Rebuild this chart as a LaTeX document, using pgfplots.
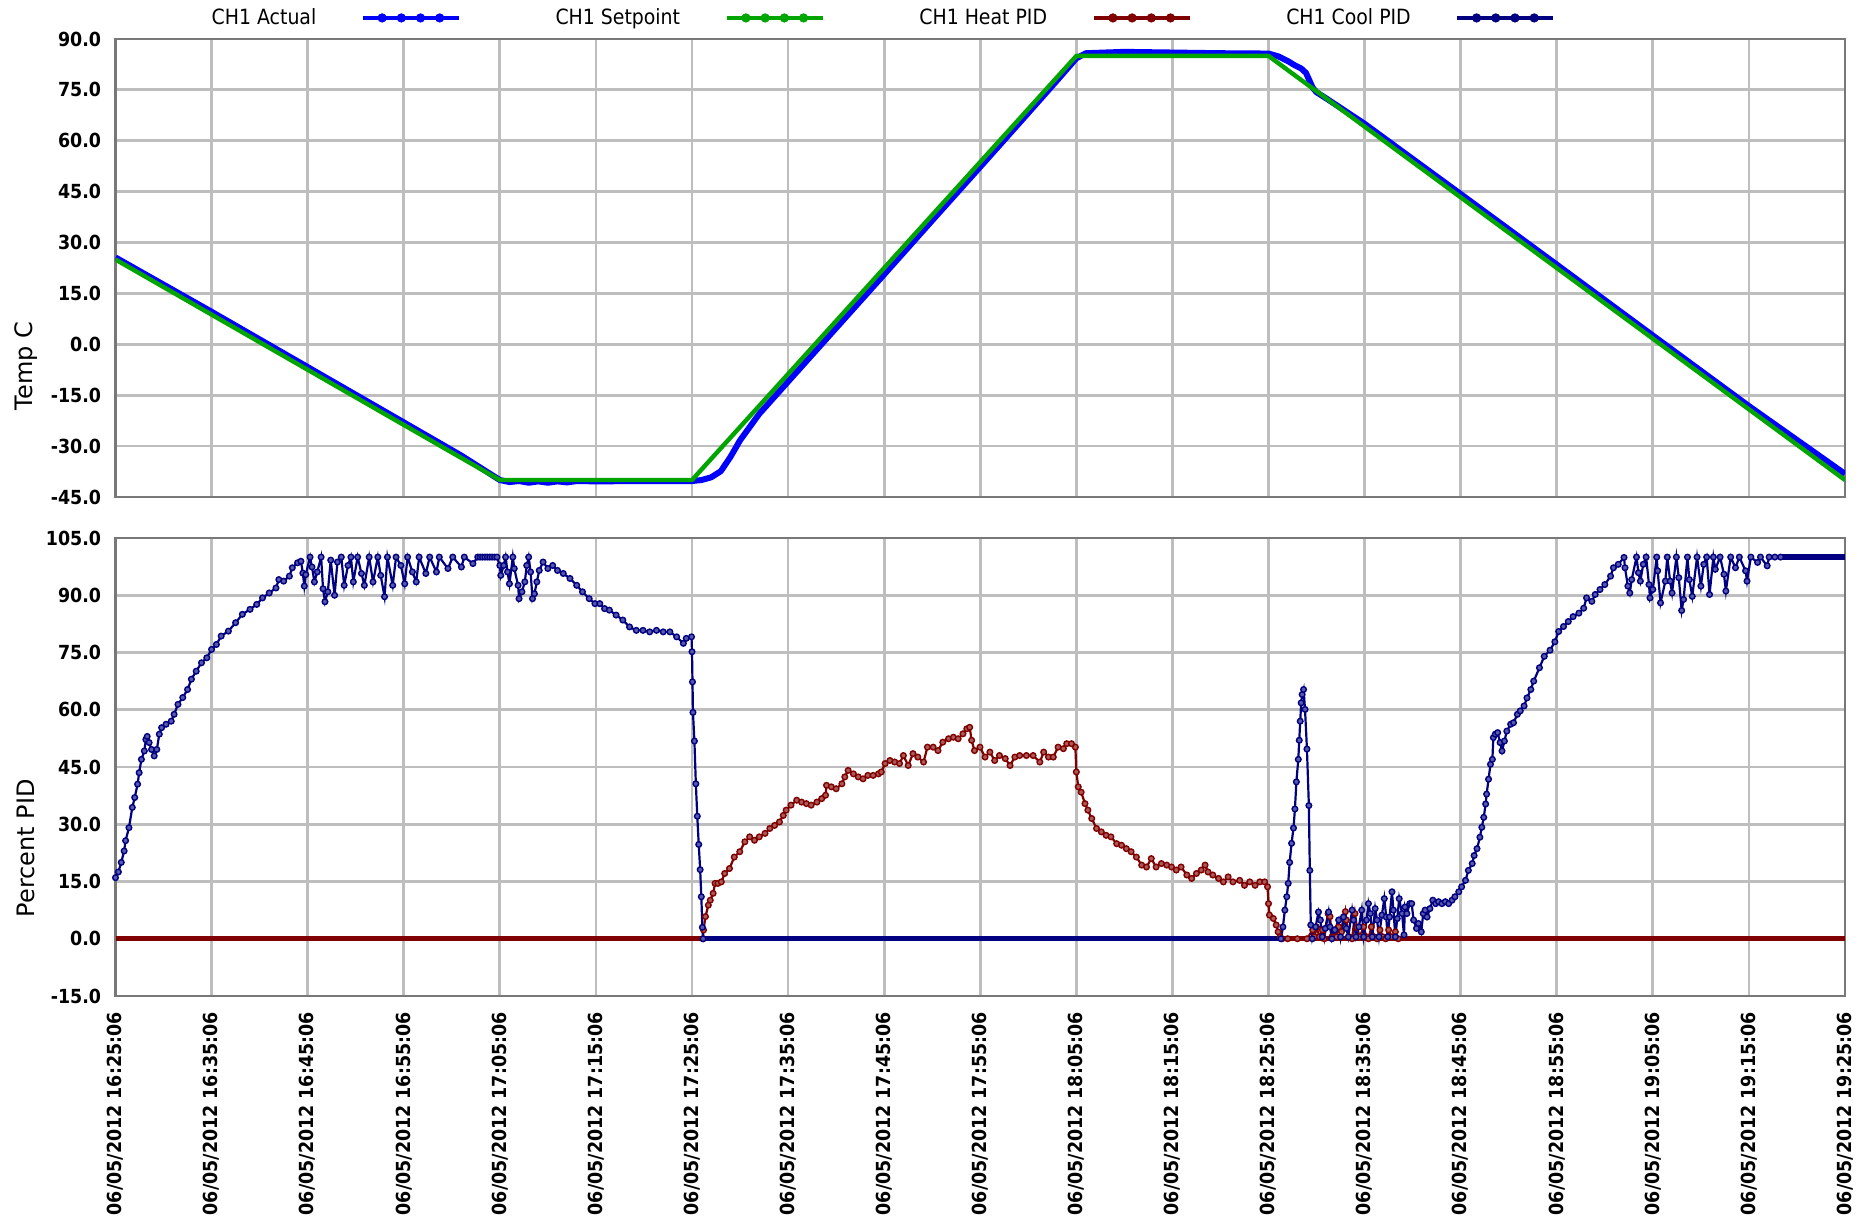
\documentclass[border=0pt]{standalone}
\usepackage{pgfplots}
\pgfplotsset{compat=1.18}
\usepackage{fontspec}
\setmainfont{DejaVu Sans}
\newfontfamily\condfont{DejaVu Sans Condensed}
\definecolor{actual}{RGB}{0,0,255}
\definecolor{setp}{RGB}{0,165,0}
\definecolor{heat}{RGB}{128,0,0}
\definecolor{cool}{RGB}{0,0,128}
\definecolor{gridc}{RGB}{190,190,190}
\definecolor{framec}{RGB}{120,120,120}
\pgfplotsset{
 base/.style={
   scale only axis, width=864.75pt, height=229pt,
   xmin=0, xmax=180, xtick={0,10,...,180},
   grid=major, major grid style={gridc, line width=1.4pt},
   axis line style={framec, line width=1.3pt},
   major tick length=0pt,
   tick label style={font=\condfont\bfseries\fontsize{9.7}{10}\selectfont},
   yticklabel style={anchor=east, inner sep=7pt},
   xticklabel style={rotate=90, anchor=east, inner sep=8pt},
   ylabel style={font=\fontsize{12}{14}\selectfont, anchor=center},
 },
 pid/.style={line width=1.1pt, mark=*, mark size=1.4pt, mark options={solid, fill=#1!65!white, draw=#1, line width=0.7pt}, color=#1},
}
\begin{document}
\begin{tikzpicture}
\useasboundingbox (0,0) rectangle (933pt,609pt);
% ---------------- top axis ----------------
\begin{axis}[base, at={(57.75pt,360.5pt)}, anchor=south west,
  ymin=-45, ymax=90, ytick={-45,-30,...,90},
  yticklabels={-45.0,-30.0,-15.0,0.0,15.0,30.0,45.0,60.0,75.0,90.0},
  xticklabels={},
  ylabel={Temp C},
  ylabel style={at={(axis description cs:-0.0518,0.286)}},
  legend columns=4, legend plot pos=right,
  legend style={at={(axis description cs:0.0531,1.0459)}, anchor=west, draw=none, fill=none, inner sep=0pt,
    font=\condfont\fontsize{10.5}{12}\selectfont,
    /tikz/every odd column/.append style={column sep=20.5pt},
    /tikz/every even column/.append style={column sep=45.5pt}},
  legend image code/.code={\draw[#1, line width=1.6pt] (0pt,0pt) -- (48pt,0pt);
     \foreach \xx in {9.6pt,19.2pt,28.8pt,38.4pt}{\fill[#1] (\xx,0pt) circle (2.1pt);}},
]
\addplot[actual, line width=3pt, line join=round, forget plot] coordinates {
(0,25.6) (3,20.8) (10,9.6) (20,-6.7) (30,-23) (36,-32.8) (39,-38.2) (40,-40) (41,-40.6) (42,-40.3) (43,-40.8) (44,-40.4) (45,-40.8) (46,-40.4) (47,-40.7) (48,-40.3) (50,-40.4) (55,-40.3) (60,-40.3) (61,-40) (62,-39.2) (63,-37.4) (64,-33.2) (65,-28.3) (67,-20.5) (70,-11) (75,4.8) (80,20.6) (85,36.5) (90,52.3) (95,68.2) (98,77.8) (100,84.3) (101,85.8) (105,86.2) (110,86) (115,85.8) (120,85.7) (121,84.9) (122,83.5) (122.7,82.3) (123.4,81.3) (123.9,80) (124.3,77.5) (124.6,75.6) (125,74.3) (126,72.5) (130,65) (140,44.3) (150,23.5) (160,2.6) (170,-18.2) (180,-38.2)
};
\addplot[setp, line width=2.2pt, line join=round, forget plot] coordinates {
(0,25) (40,-40) (60,-40) (100,85) (120,85) (180,-40)
};
\addlegendimage{actual}
\addlegendentry{CH1 Actual}
\addlegendimage{setp}
\addlegendentry{CH1 Setpoint}
\addlegendimage{heat}
\addlegendentry{CH1 Heat PID}
\addlegendimage{cool}
\addlegendentry{CH1 Cool PID}
\end{axis}
% ---------------- bottom axis ----------------
\begin{axis}[base, at={(57.75pt,111pt)}, anchor=south west,
  ymin=-15, ymax=105, ytick={-15,0,...,105},
  yticklabels={-15.0,0.0,15.0,30.0,45.0,60.0,75.0,90.0,105.0},
  xticklabels={06/05/2012 16:25:06,06/05/2012 16:35:06,06/05/2012 16:45:06,06/05/2012 16:55:06,06/05/2012 17:05:06,06/05/2012 17:15:06,06/05/2012 17:25:06,06/05/2012 17:35:06,06/05/2012 17:45:06,06/05/2012 17:55:06,06/05/2012 18:05:06,06/05/2012 18:15:06,06/05/2012 18:25:06,06/05/2012 18:35:06,06/05/2012 18:45:06,06/05/2012 18:55:06,06/05/2012 19:05:06,06/05/2012 19:15:06,06/05/2012 19:25:06},
  ylabel={Percent PID},
  ylabel style={at={(axis description cs:-0.0518,0.323)}},
]
% heat zero segments
\addplot[heat, line width=2.6pt] coordinates {(0,0) (61.2,0)};
\addplot[heat, line width=2.6pt] coordinates {(121.2,0) (180,0)};
% heat PID
\addplot[pid=heat] coordinates {
(61.15,0) (61.2,2.3) (61.4,5.8) (61.7,8.8) (61.9,10.1) (62.2,11.9) (62.4,14.5) (62.7,14.5) (63.05,14.9) (63.4,17.1) (63.9,18.4) (64.4,21.4) (64.97,22.8) (65.5,25.4) (66,26.7) (66.5,25.8) (67,26.7) (67.6,27.6) (68.1,28.9) (68.6,29.7) (69.1,30.6) (69.5,32.3) (69.8,33.7) (70.3,35) (70.9,36.3) (71.4,35.8) (71.9,35.4) (72.4,35) (73,35.8) (73.5,36.7) (73.9,37.6) (74,40.2) (74.5,39.8) (75,39.3) (75.6,40.6) (75.9,42.4) (76.25,44.1) (76.8,43.2) (77.3,42.4) (77.8,41.9) (78.3,42.8) (78.85,42.8) (79.4,43.2) (79.7,43.7) (80.1,45.9) (80.6,46.7) (81.1,46.3) (81.6,45.9) (82,48) (82.5,45.4) (83,48.5) (83.5,47.6) (84.1,46.3) (84.5,50.2) (85.1,50.2) (85.6,49.3) (86.1,51.5) (86.7,52.4) (87.2,52.8) (87.7,52.4) (88.2,53.7) (88.6,55) (88.9,55.4) (89.1,52) (89.4,49.3) (89.97,50.2) (90.5,47.6) (91,48.9) (91.5,46.7) (92,48) (92.6,47.2) (93.1,45.4) (93.6,47.6) (94.1,48) (94.8,48) (95.5,48) (96.2,46.3) (96.6,48.9) (97.1,47.6) (97.6,47.6) (98.1,50.2) (98.65,49.8) (99,51.1) (99.5,51.1) (99.9,50.2) (100,43.7) (100.2,39.8) (100.5,38.4) (100.9,35.4) (101.2,33.7) (101.6,31.5) (102.1,28.9) (102.6,28) (103.1,27.1) (103.6,26.7) (104.2,24.9) (104.7,24.5) (105.2,23.6) (105.7,22.8) (106.25,21.4) (106.8,19.3) (107.3,18.8) (107.8,21) (108.3,18.8) (108.85,19.7) (109.4,19.3) (109.9,18.8) (110.4,18) (110.9,18.8) (111.5,16.7) (112,15.8) (112.5,17.1) (113,18) (113.4,19.3) (113.7,17.5) (114.2,16.7) (114.8,15.8) (115.3,14.9) (115.8,16.2) (116.3,14.9) (117,15.3) (117.5,14) (118.05,14.9) (118.6,14) (119.1,14.9) (119.6,14.9) (119.9,13.6) (120,9.2) (120.1,6.2) (120.5,5.3) (120.8,3.6) (121,1.8) (121.2,0.5) (121.4,0) (122,0) (123,0) (124,0) (124.6,2.3) (124.8,0.5) (125,3.1) (125.3,0.5) (125.6,2.3) (125.8,0) (126.2,6.6) (126.4,5.8) (126.6,0.5) (126.9,2.3) (127.1,0.5) (127.3,3.1) (127.6,1.8) (128,7.1) (128.1,4.9) (128.4,0.5) (128.7,0) (129,6.6) (129.2,3) (129.5,0.5) (129.9,3.1) (130.2,0.5) (130.4,0) (130.7,3.1) (131,0.5) (131.3,0) (131.6,2.3) (131.9,0.5) (132.2,0) (132.5,2.3) (132.8,0.5) (133.2,1.8) (133.5,0)
};
% cool zero and flat segments
\addplot[cool, line width=2.6pt] coordinates {(61.15,0) (121.3,0)};
\addplot[cool, line width=2.6pt] coordinates {(173.3,100) (180,100)};
% cool PID part 1
\addplot[pid=cool] coordinates {
(0,16) (0.3,17.5) (0.6,20) (0.9,23) (1.05,25.7) (1.4,29.1) (1.75,34.4) (2,37) (2.3,40.5) (2.46,43.5) (2.7,47) (3,49.2) (3.16,52.2) (3.3,53) (3.5,51.4) (3.75,49.6) (4.03,47.9) (4.3,49.6) (4.56,53.6) (4.8,55.3) (5.26,56.2) (5.8,57) (6.1,58.8) (6.5,61.4) (7,63.2) (7.5,65.3) (7.9,68) (8.4,70.1) (8.95,72.3) (9.5,73.6) (10,75.8) (10.5,77.1) (11,79.3) (11.75,80.6) (12.5,82.8) (13.2,85) (14,86.3) (14.7,87.6) (15.3,89.3) (16,90.6) (16.7,91.9) (17,94.1) (17.5,93.7) (18.1,95) (18.4,97.2) (18.95,98.5) (19.3,98.9) (19.5,95.8) (19.65,92.4) (19.8,95.4) (20.25,100) (20.45,97.4) (20.7,93.5) (21,96.1) (21.4,100) (21.6,91.7) (21.8,88.3) (22.1,90.9) (22.4,99.2) (22.8,90) (23.1,98.7) (23.5,100) (23.8,92.6) (24.2,97.8) (24.5,100) (24.75,93.5) (25.2,100) (25.6,95.7) (25.9,92.6) (26.4,100) (26.8,93.5) (27.3,100) (27.6,95.2) (28,89.6) (28.3,100) (28.85,92.6) (29.2,100) (29.7,97.8) (30.1,93) (30.4,100) (30.9,96.1) (31.3,93.5) (31.6,100) (32.3,95.7) (32.7,100) (33.4,96.1) (33.7,100) (34.6,97) (35.1,100) (36,97.4) (36.3,100) (37.2,98.3) (37.7,100) (37.95,100) (38.2,100) (38.45,100) (38.7,100) (38.95,100) (39.2,100) (39.45,100) (39.7,100) (40,97.8) (40.1,95.2) (40.4,97.8) (40.6,100) (40.8,96.1) (41,93) (41.35,100) (41.5,97) (41.9,92.6) (42,89.1) (42.3,90.9) (42.6,93.5) (42.8,97.8) (43,100) (43.2,96.1) (43.4,89.1) (43.6,90.4) (43.85,93.5) (44.1,96.5) (44.5,98.7) (45,97) (45.5,97.8) (46,96.5) (46.6,95.7) (47.3,94.4) (48,92.6) (48.6,90.9) (49.3,89.1) (49.9,87.8) (50.4,87.8) (50.9,86.5) (51.4,86.1) (52.1,84.8) (52.8,83.5) (53.5,81.7) (54.2,80.8) (54.9,80.8) (55.6,80.4) (56.3,80.8) (57,80.4) (57.7,80.4) (58.4,79.1) (59.1,77.4) (59.4,78.7) (59.95,79.1) (60,75.2) (60.05,67.3) (60.1,59.3) (60.25,51.8) (60.4,40.6) (60.55,32.1) (60.7,24.7) (60.85,18.1) (60.97,11) (61.08,3) (61.15,0)
};
% cool PID part 2
\addplot[pid=cool] coordinates {
(121.3,0) (121.5,3.1) (121.7,7.5) (121.9,11) (122.05,14.5) (122.2,20) (122.4,25) (122.6,29) (122.75,34) (122.9,41.1) (123.1,47) (123.2,52) (123.3,57) (123.4,61.8) (123.5,64) (123.65,65.3) (123.8,60.1) (124,49.7) (124.2,34.9) (124.3,17.9) (124.4,3.6) (124.55,0) (124.9,3.1) (125.2,7) (125.4,4.9) (125.6,0.5) (125.9,2.7) (126.25,7) (126.4,3.1) (126.6,0) (126.9,2.3) (127.3,4.9) (127.5,0.5) (127.8,5.7) (128.1,2.7) (128.3,0.5) (128.7,7.5) (128.85,4.9) (129.1,0.5) (129.4,3.1) (129.7,7.5) (129.9,0.5) (130.2,4.9) (130.4,9.2) (130.6,6.6) (130.8,0.5) (131.1,7.9) (131.3,4.9) (131.5,0.5) (131.8,6.2) (132.05,10.5) (132.25,5.7) (132.4,0.5) (132.6,5.7) (132.85,12.3) (133,7.5) (133.2,0.5) (133.4,5.3) (133.6,10.5) (133.9,6.6) (134.1,1) (134.2,8.3) (134.4,6.6) (134.7,9.2) (134.9,9.2) (135.1,4.9) (135.4,2.7) (135.6,4) (135.9,1.8) (136.1,6.6) (136.3,7.5) (136.5,5.7) (136.8,7.9) (137.1,10.1) (137.4,9.2) (137.7,9.7) (138.05,9.2) (138.4,9.7) (138.75,9.2) (139.1,10.1) (139.4,11) (139.8,12.3) (140.1,13.6) (140.5,15.3) (140.8,17.9) (141.2,19.7) (141.4,21.8) (141.7,23.6) (142,26.6) (142.2,29.2) (142.4,31.8) (142.6,35.3) (142.7,37.9) (142.9,41.8) (143.1,45.7) (143.3,47) (143.4,52.7) (143.6,53.6) (143.85,54) (144.1,51.4) (144.3,49.2) (144.55,51.8) (144.8,54.4) (145.2,56.2) (145.5,56.6) (145.9,58.8) (146.2,59.7) (146.6,61) (146.9,63.1) (147.3,65.3) (147.6,67.5) (148.2,71) (148.7,74) (149.3,75.6) (149.8,77.8) (150.2,80.5) (150.7,81.8) (151.2,83.1) (151.7,84.4) (152.3,85.3) (152.8,86.6) (153.1,89.3) (153.65,88.4) (154,90.2) (154.5,91.5) (155,92.8) (155.6,95) (155.9,97.2) (156.4,98.1) (157,99.9) (157.1,97.2) (157.4,92.4) (157.6,90.6) (157.8,94.1) (158.3,100) (158.5,95.9) (158.7,93.7) (159,98.1) (159.3,100) (159.6,92.8) (159.7,89.3) (160,91.5) (160.4,100) (160.5,96.4) (160.8,88) (161.3,93.7) (161.5,100) (161.8,93.7) (162,90.6) (162.45,100) (162.7,94.6) (163,86) (163.2,88.9) (163.6,100) (163.8,94.1) (164.1,89.7) (164.6,100) (165,92.4) (165.3,98.1) (165.6,100) (165.9,90.2) (166.3,100) (166.5,96.8) (167,100) (167.4,95.5) (167.6,91.1) (168.1,100) (168.6,97.2) (169,100) (169.65,96.4) (169.8,93.7) (170.2,100) (170.9,98.6) (171.2,100) (171.9,97.7) (172.1,100) (172.7,100) (173.3,100)
};
\end{axis}
\end{tikzpicture}
\end{document}
